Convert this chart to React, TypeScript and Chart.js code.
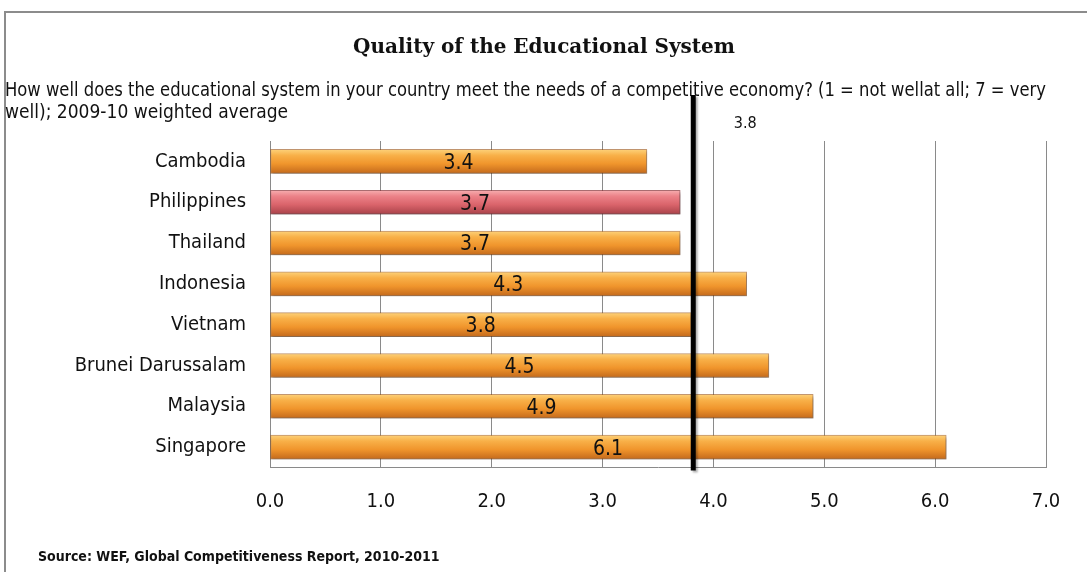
import React, { useEffect, useRef } from "react";
import { Chart, registerables } from "chart.js";

Chart.register(...registerables);

const countries = [
  "Cambodia",
  "Philippines",
  "Thailand",
  "Indonesia",
  "Vietnam",
  "Brunei Darussalam",
  "Malaysia",
  "Singapore",
];
const scores = [3.4, 3.7, 3.7, 4.3, 3.8, 4.5, 4.9, 6.1];
const highlighted = ["Philippines"];
const averageValue = 3.8;
const xMin = 0;
const xMax = 7;
const xStep = 1;
const titleText = "Quality of the Educational System";
const subtitleLines = [
  "How well does the educational system in your country meet the needs of a competitive economy? (1 = not wellat all; 7 = very",
  "well); 2009-10 weighted average",
];
const sourceText = "Source: WEF, Global Competitiveness Report, 2010-2011";

const BAR_THICK = 24;
const SANS = "'Liberation Sans Narrow', 'DejaVu Sans Condensed', 'Liberation Sans', sans-serif";

function makeGradient(ctx: CanvasRenderingContext2D, cy: number, red: boolean) {
  const g = ctx.createLinearGradient(0, cy - BAR_THICK / 2, 0, cy + BAR_THICK / 2);
  if (red) {
    g.addColorStop(0, "#F7AEB0");
    g.addColorStop(0.25, "#EC8288");
    g.addColorStop(0.6, "#DA646B");
    g.addColorStop(1, "#A9434A");
  } else {
    g.addColorStop(0, "#FDD27A");
    g.addColorStop(0.25, "#F8B048");
    g.addColorStop(0.6, "#F0952C");
    g.addColorStop(1, "#C46A1C");
  }
  return g;
}

const overlayPlugin = {
  id: "overlay",
  beforeDatasetsDraw(chart: any) {
    const ctx = chart.ctx;
    ctx.save();
    ctx.shadowColor = "rgba(0,0,0,0.35)";
    ctx.shadowOffsetX = 1;
    ctx.shadowOffsetY = 2;
    ctx.shadowBlur = 3;
  },
  afterDatasetsDraw(chart: any) {
    const ctx = chart.ctx;
    ctx.restore();
    const meta = chart.getDatasetMeta(0);
    const xs = chart.scales.x;
    const x0 = xs.getPixelForValue(0);
    ctx.save();
    ctx.font = `21px ${SANS}`;
    ctx.fillStyle = "#111";
    ctx.textAlign = "center";
    ctx.textBaseline = "middle";
    meta.data.forEach((el: any, i: number) => {
      ctx.fillText(scores[i].toFixed(1), (x0 + el.x) / 2, el.y + 2);
    });
    ctx.restore();
    const ax = xs.getPixelForValue(averageValue);
    const area = chart.chartArea;
    ctx.save();
    ctx.strokeStyle = "#000";
    ctx.lineWidth = 5;
    ctx.shadowColor = "rgba(0,0,0,0.3)";
    ctx.shadowOffsetX = 2;
    ctx.shadowOffsetY = 2;
    ctx.shadowBlur = 2;
    ctx.beginPath();
    ctx.moveTo(ax + 2, area.top - 46);
    ctx.lineTo(ax + 2, area.bottom + 3);
    ctx.stroke();
    ctx.restore();
    ctx.save();
    ctx.font = `16px ${SANS}`;
    ctx.fillStyle = "#111";
    ctx.textAlign = "center";
    ctx.textBaseline = "middle";
    ctx.fillText(averageValue.toFixed(1), ax + 54, area.top - 17);
    ctx.restore();
  },
  afterDraw(chart: any) {
    const ctx = chart.ctx;
    ctx.save();
    ctx.font = "bold 20px 'DejaVu Serif', 'Liberation Serif', serif";
    ctx.fillStyle = "#111";
    ctx.textAlign = "center";
    ctx.textBaseline = "middle";
    ctx.fillText(titleText, 544, 48);
    ctx.font = `bold 14px ${SANS}`;
    ctx.textAlign = "left";
    ctx.fillText(sourceText, 38, 557);
    ctx.restore();
  },
};

export default function App() {
  const canvasRef = useRef<HTMLCanvasElement | null>(null);

  useEffect(() => {
    const canvas = canvasRef.current;
    if (!canvas) return;
    const chart = new Chart(canvas, {
      type: "bar",
      data: {
        labels: countries,
        datasets: [
          {
            data: scores,
            barThickness: BAR_THICK,
            backgroundColor: (c: any) => {
              const chart = c.chart;
              const ys = chart.scales && chart.scales.y;
              const red = highlighted.includes(countries[c.dataIndex]);
              const flat = red ? "#DA646B" : "#F0A038";
              if (!ys || c.dataIndex === undefined) return flat;
              const cy = ys.getPixelForValue(c.dataIndex);
              if (!Number.isFinite(cy)) return flat;
              return makeGradient(chart.ctx, cy, red);
            },
            borderColor: (c: any) =>
              highlighted.includes(countries[c.dataIndex]) ? "rgba(140,50,55,0.7)" : "rgba(160,85,20,0.6)",
            borderWidth: 1,
            borderSkipped: false,
          },
        ],
      },
      options: {
        indexAxis: "y",
        responsive: false,
        animation: false,
        layout: { padding: { left: 5, right: 41, top: 0, bottom: 44.5 } },
        plugins: {
          legend: { display: false },
          tooltip: { enabled: false },
          title: { display: false },
          subtitle: {
            display: true,
            text: subtitleLines,
            align: "start",
            color: "#111",
            font: { family: SANS, size: 19, lineHeight: 1.1579 },
            padding: { top: 80, bottom: 17 },
          },
        },
        scales: {
          x: {
            min: xMin,
            max: xMax,
            ticks: {
              stepSize: xStep,
              padding: 22,
              color: "#111",
              font: { family: SANS, size: 20 },
              callback: (v: any) => Number(v).toFixed(1),
              maxRotation: 0,
            },
            grid: { display: true, color: "#8a8a8a", drawTicks: false, lineWidth: 1 },
            border: { display: true, color: "#8a8a8a" },
            afterFit: (s: any) => {
              s.height = 60;
            },
          },
          y: {
            ticks: {
              padding: 24,
              color: "#111",
              font: { family: SANS, size: 20 },
            },
            grid: { display: false, drawTicks: false },
            border: { display: true, color: "#8a8a8a" },
            afterFit: (s: any) => {
              s.width = 265;
            },
          },
        },
      },
      plugins: [overlayPlugin],
    } as any);
    return () => chart.destroy();
  }, []);

  return (
    <div style={{ position: "absolute", left: 0, top: 0, width: 1087, height: 572, overflow: "hidden", background: "#fff" }}>
      <div
        style={{
          position: "absolute",
          left: 4,
          top: 11,
          width: 1100,
          height: 620,
          border: "2px solid #8c8c8c",
          boxSizing: "border-box",
        }}
      />
      <canvas ref={canvasRef} width={1087} height={572} style={{ position: "absolute", left: 0, top: 0 }} />
    </div>
  );
}
